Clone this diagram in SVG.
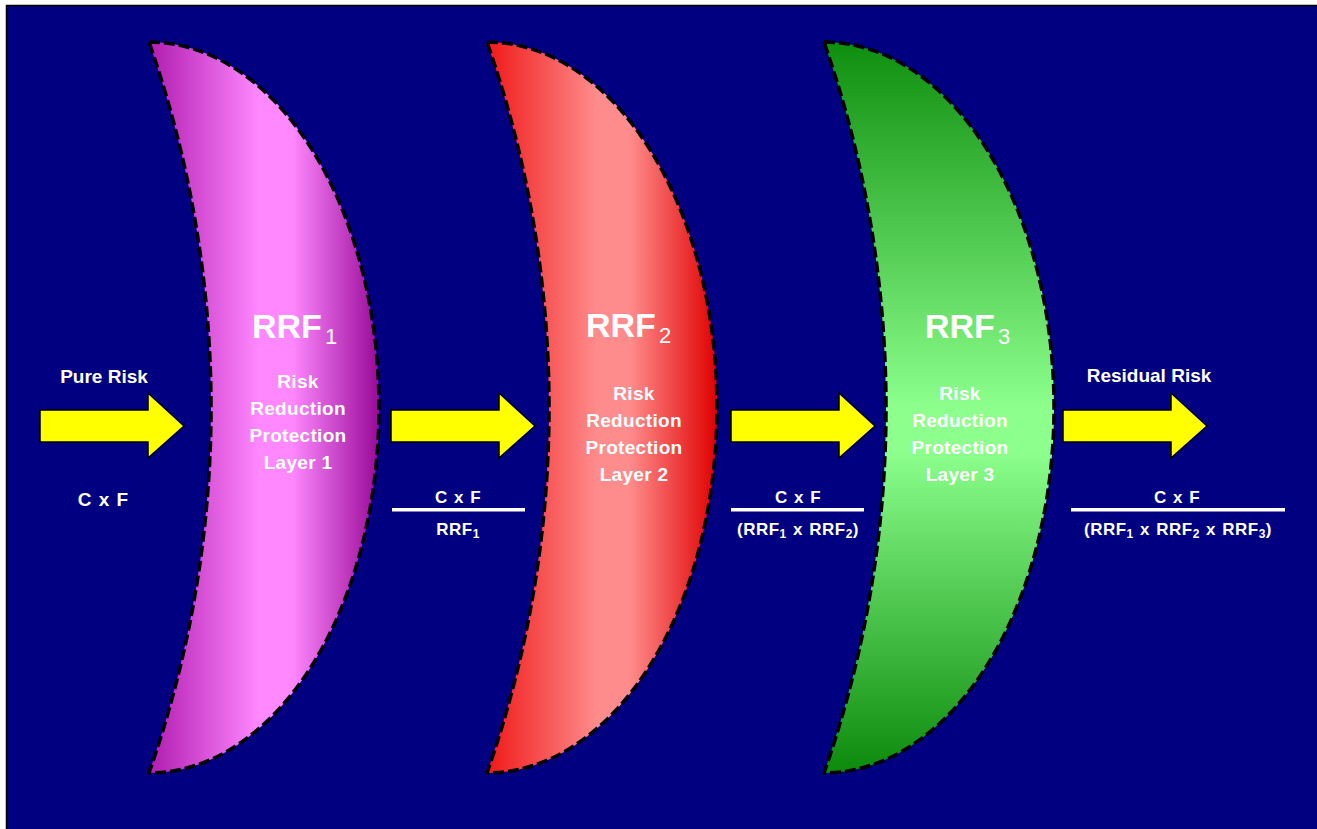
<svg xmlns="http://www.w3.org/2000/svg" width="1317" height="829" viewBox="0 0 1317 829">
<defs>
<linearGradient id="gMag" x1="149" y1="0" x2="379" y2="0" gradientUnits="userSpaceOnUse">
<stop offset="0" stop-color="#B01CB0"/>
<stop offset="0.48" stop-color="#FF88FF"/>
<stop offset="0.62" stop-color="#FF88FF"/>
<stop offset="1" stop-color="#980A98"/>
</linearGradient>
<linearGradient id="gRed" x1="149" y1="0" x2="379" y2="0" gradientUnits="userSpaceOnUse">
<stop offset="0" stop-color="#F01818"/>
<stop offset="0.48" stop-color="#FF8C8C"/>
<stop offset="0.62" stop-color="#FF8C8C"/>
<stop offset="1" stop-color="#E00000"/>
</linearGradient>
<linearGradient id="gGrn" x1="0" y1="42" x2="0" y2="773" gradientUnits="userSpaceOnUse">
<stop offset="0" stop-color="#0E8E0E"/>
<stop offset="0.5" stop-color="#8CFF8C"/>
<stop offset="0.56" stop-color="#8CFF8C"/>
<stop offset="1" stop-color="#0C8A0C"/>
</linearGradient>
<path id="cres" d="M149,42 A230,365.5 0 0 1 149,773 A1108,1108 0 0 0 149,42 Z"/>
<path id="arrow" d="M0,-16 H108 V-33 L144,0 L108,32 V16 H0 Z"/>
</defs>
<style>
.shell{stroke:#000;stroke-width:3.5;stroke-dasharray:11 4;stroke-linejoin:round}
.arr{fill:#FFFF00;stroke:#000;stroke-width:1.5;stroke-linejoin:miter}
.t{font-family:"Liberation Sans",Arial,sans-serif;font-weight:bold;fill:#fff}
.big{font-size:34px}
.bsub{font-size:22px;font-weight:normal}
.lay{font-size:19px;letter-spacing:0.3px;text-anchor:middle}
.lbl{font-size:19px;text-anchor:middle}
.frm{font-size:17px;letter-spacing:0.5px;text-anchor:middle;word-spacing:1px}
.fsub{font-size:12px}
.bar{fill:#fff}
</style>
<rect x="6.5" y="5.5" width="1320" height="830" fill="#000080" stroke="#000" stroke-width="1.5"/>

<g id="layer1">
<use href="#cres" fill="url(#gMag)" class="shell"/>
<text class="t big" x="252" y="338">RRF<tspan class="bsub" dx="3" dy="6">1</tspan></text>
<text class="t lay"><tspan x="298" y="388">Risk</tspan><tspan x="298" y="415">Reduction</tspan><tspan x="298" y="442">Protection</tspan><tspan x="298" y="469">Layer 1</tspan></text>
</g>

<g id="layer2">
<use href="#cres" transform="translate(338,0)" fill="url(#gRed)" class="shell"/>
<text class="t big" x="586" y="337">RRF<tspan class="bsub" dx="3" dy="6">2</tspan></text>
<text class="t lay"><tspan x="634" y="400">Risk</tspan><tspan x="634" y="427">Reduction</tspan><tspan x="634" y="454">Protection</tspan><tspan x="634" y="481">Layer 2</tspan></text>
</g>

<g id="layer3">
<use href="#cres" transform="translate(675,0)" fill="url(#gGrn)" class="shell"/>
<text class="t big" x="925" y="338">RRF<tspan class="bsub" dx="3" dy="6">3</tspan></text>
<text class="t lay"><tspan x="960" y="400">Risk</tspan><tspan x="960" y="427">Reduction</tspan><tspan x="960" y="454">Protection</tspan><tspan x="960" y="481">Layer 3</tspan></text>
</g>

<g id="connectors">
<use href="#arrow" class="arr" transform="translate(40,426)"/>
<use href="#arrow" class="arr" transform="translate(391,426)"/>
<use href="#arrow" class="arr" transform="translate(731,426)"/>
<use href="#arrow" class="arr" transform="translate(1063,426)"/>
</g>

<g id="pure-risk">
<text class="t lbl" x="104" y="383">Pure Risk</text>
<text class="t lbl" x="103" y="506" word-spacing="2">C x F</text>
</g>

<g id="risk-after-1">
<text class="t frm" x="458" y="503">C x F</text>
<rect class="bar" x="392" y="508" width="133" height="3.5"/>
<text class="t frm" x="458" y="535">RRF<tspan class="fsub" dy="3">1</tspan></text>
</g>

<g id="risk-after-2">
<text class="t frm" x="798" y="503">C x F</text>
<rect class="bar" x="731" y="508" width="133" height="3.5"/>
<text class="t frm" x="798" y="535">(RRF<tspan class="fsub" dy="3">1</tspan><tspan dy="-3"> x RRF</tspan><tspan class="fsub" dy="3">2</tspan><tspan dy="-3">)</tspan></text>
</g>

<g id="residual-risk">
<text class="t lbl" x="1149" y="382">Residual Risk</text>
<text class="t frm" x="1177" y="503">C x F</text>
<rect class="bar" x="1071" y="508" width="214" height="3.5"/>
<text class="t frm" x="1178" y="535">(RRF<tspan class="fsub" dy="3">1</tspan><tspan dy="-3"> x RRF</tspan><tspan class="fsub" dy="3">2</tspan><tspan dy="-3"> x RRF</tspan><tspan class="fsub" dy="3">3</tspan><tspan dy="-3">)</tspan></text>
</g>
</svg>
